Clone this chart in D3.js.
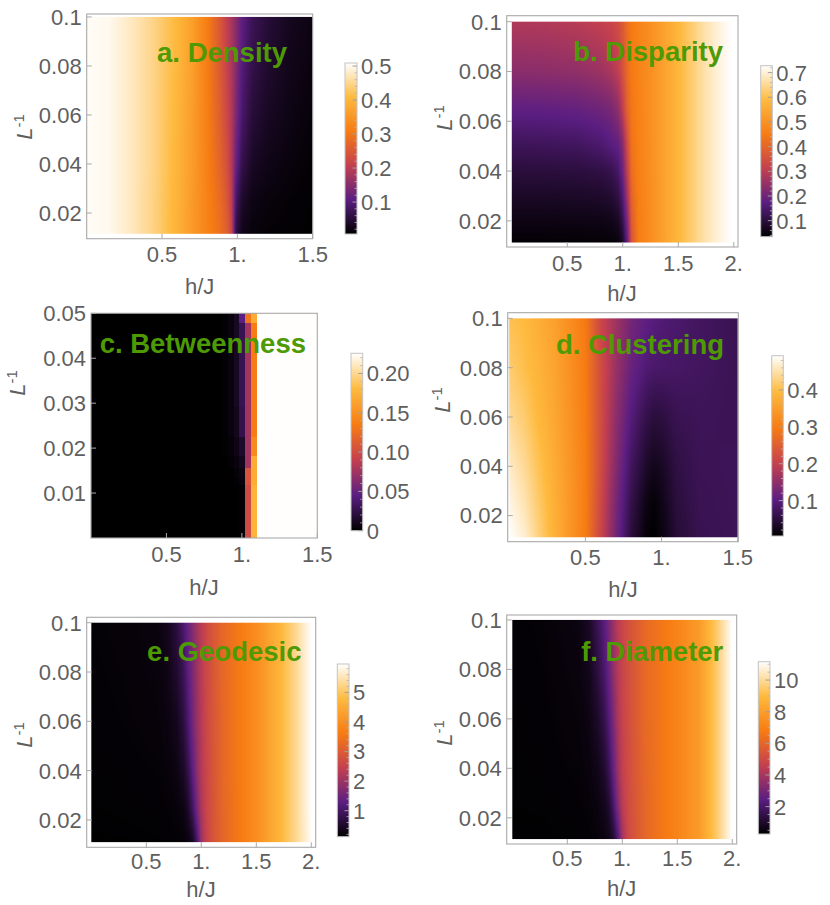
<!DOCTYPE html>
<html lang="en">
<head>
<meta charset="UTF-8" />
<title>Network measures vs h/J and 1/L</title>
<script src="https://d3js.org/d3.v7.min.js"></script>
<style>
  body { margin: 0; background: #fff; }
  svg text { font-family: "Liberation Sans", Arial, Helvetica, sans-serif; }
</style>
</head>
<body>
<div id="chart"></div>
<script>
// colour map (close to Mathematica's SunsetColors)
var sunsetStops = [0, 0.2, 0.4, 0.6, 0.8, 1];
var sunsetColors = ["#000000", "#5b1e82", "#c4404f", "#f77c13", "#feba3e", "#ffffff"];

// a. Density  (rows are L^-1 from top to bottom, columns are h/J)
var densityX = [0, 0.15, 0.3, 0.45, 0.6, 0.7, 0.8, 0.88, 0.93, 0.96, 0.99, 1.03, 1.1, 1.2, 1.35, 1.5];
var densityY = [0.1, 0.08, 0.06, 0.04, 0.025, 0.0115];
var densityZ = [
  [0.505, 0.5, 0.476, 0.445, 0.405, 0.365, 0.31, 0.25, 0.205, 0.18, 0.15, 0.11, 0.072, 0.05, 0.03, 0.02],
  [0.505, 0.5, 0.476, 0.445, 0.405, 0.365, 0.31, 0.255, 0.212, 0.185, 0.148, 0.1, 0.063, 0.042, 0.026, 0.017],
  [0.505, 0.5, 0.476, 0.445, 0.402, 0.362, 0.312, 0.262, 0.222, 0.19, 0.14, 0.088, 0.05, 0.034, 0.022, 0.014],
  [0.505, 0.5, 0.476, 0.445, 0.4, 0.36, 0.315, 0.272, 0.235, 0.195, 0.12, 0.065, 0.035, 0.024, 0.016, 0.01],
  [0.505, 0.5, 0.476, 0.443, 0.398, 0.358, 0.318, 0.283, 0.248, 0.205, 0.085, 0.04, 0.022, 0.016, 0.011, 0.008],
  [0.505, 0.5, 0.476, 0.443, 0.396, 0.356, 0.32, 0.29, 0.262, 0.22, 0.06, 0.025, 0.015, 0.011, 0.009, 0.007]
];

// b. Disparity
var disparityX = [0, 0.3, 0.6, 0.8, 0.9, 0.96, 1.0, 1.04, 1.08, 1.14, 1.25, 1.4, 1.55, 1.7, 1.85, 1.975];
var disparityY = [0.1, 0.08, 0.065, 0.05, 0.04, 0.03, 0.02, 0.0113];
var disparityZ = [
  [0.285, 0.288, 0.298, 0.312, 0.325, 0.345, 0.375, 0.42, 0.448, 0.465, 0.495, 0.545, 0.6, 0.655, 0.7, 0.728],
  [0.236, 0.238, 0.245, 0.26, 0.28, 0.31, 0.355, 0.41, 0.445, 0.465, 0.495, 0.545, 0.6, 0.655, 0.7, 0.728],
  [0.18, 0.182, 0.188, 0.2, 0.215, 0.245, 0.31, 0.395, 0.44, 0.462, 0.495, 0.545, 0.6, 0.655, 0.7, 0.728],
  [0.128, 0.13, 0.135, 0.15, 0.168, 0.182, 0.23, 0.34, 0.43, 0.46, 0.493, 0.545, 0.6, 0.655, 0.7, 0.728],
  [0.099, 0.1, 0.102, 0.108, 0.12, 0.145, 0.2, 0.31, 0.42, 0.458, 0.492, 0.545, 0.6, 0.655, 0.7, 0.728],
  [0.077, 0.077, 0.078, 0.082, 0.09, 0.11, 0.16, 0.27, 0.4, 0.455, 0.49, 0.545, 0.6, 0.655, 0.7, 0.728],
  [0.056, 0.056, 0.057, 0.058, 0.062, 0.075, 0.12, 0.22, 0.38, 0.452, 0.49, 0.545, 0.6, 0.655, 0.7, 0.728],
  [0.04, 0.04, 0.041, 0.042, 0.044, 0.05, 0.08, 0.18, 0.36, 0.45, 0.488, 0.545, 0.6, 0.655, 0.7, 0.728]
];

// c. Betweenness (blocky, nearest cell)
var betweenX = [0, 0.851, 0.889, 0.927, 0.965, 1.003, 1.041, 1.079, 1.117, 1.5];
var betweenY = [0.05, 0.0455, 0.0333, 0.025, 0.02, 0.0167, 0.0143, 0.0125, 0.0111, 0.01];
var betweenZ = [
  [0, 0, 0.002, 0.004, 0.012, 0.045, 0.13, 0.17, 0.225, 0.225],
  [0, 0, 0.002, 0.004, 0.012, 0.028, 0.075, 0.135, 0.225, 0.225],
  [0, 0, 0.002, 0.004, 0.012, 0.028, 0.075, 0.135, 0.225, 0.225],
  [0, 0, 0.002, 0.004, 0.01, 0.026, 0.075, 0.135, 0.225, 0.225],
  [0, 0, 0.001, 0.003, 0.008, 0.015, 0.075, 0.145, 0.225, 0.225],
  [0, 0, 0, 0.002, 0.005, 0.01, 0.075, 0.17, 0.225, 0.225],
  [0, 0, 0, 0, 0.003, 0.006, 0.105, 0.17, 0.225, 0.225],
  [0, 0, 0, 0, 0.002, 0.004, 0.105, 0.17, 0.225, 0.225],
  [0, 0, 0, 0, 0, 0.002, 0.098, 0.175, 0.225, 0.225],
  [0, 0, 0, 0, 0, 0.002, 0.098, 0.175, 0.225, 0.225]
];

// d. Clustering
var clusterX = [0, 0.1, 0.2, 0.3, 0.4, 0.5, 0.6, 0.7, 0.8, 0.9, 0.95, 1.0, 1.1, 1.25, 1.5];
var clusterY = [0.1, 0.08, 0.06, 0.04, 0.025, 0.0112];
var clusterZ = [
  [0.405, 0.395, 0.375, 0.355, 0.325, 0.295, 0.21, 0.165, 0.125, 0.105, 0.098, 0.092, 0.085, 0.075, 0.066],
  [0.42, 0.402, 0.383, 0.36, 0.33, 0.297, 0.222, 0.16, 0.115, 0.09, 0.085, 0.082, 0.08, 0.075, 0.067],
  [0.44, 0.42, 0.39, 0.365, 0.333, 0.298, 0.222, 0.15, 0.095, 0.06, 0.05, 0.052, 0.065, 0.07, 0.068],
  [0.465, 0.44, 0.405, 0.372, 0.338, 0.3, 0.22, 0.14, 0.075, 0.035, 0.025, 0.03, 0.055, 0.068, 0.07],
  [0.48, 0.455, 0.415, 0.378, 0.34, 0.3, 0.215, 0.13, 0.06, 0.018, 0.01, 0.02, 0.05, 0.066, 0.07],
  [0.493, 0.47, 0.425, 0.38, 0.34, 0.298, 0.21, 0.125, 0.05, 0.01, 0.004, 0.015, 0.045, 0.064, 0.07]
];

// e. Geodesic
var geodesicX = [0, 0.3, 0.6, 0.7, 0.78, 0.84, 0.88, 0.92, 0.96, 1.0, 1.05, 1.12, 1.2, 1.35, 1.5, 1.7, 1.85, 2.0];
var geodesicY = [0.1, 0.08, 0.06, 0.04, 0.025, 0.011];
var geodesicZ = [
  [0.18, 0.2, 0.25, 0.4, 0.7, 1.1, 1.45, 1.75, 2.05, 2.35, 2.65, 2.95, 3.25, 3.6, 3.95, 4.65, 5.25, 5.95],
  [0.17, 0.19, 0.23, 0.33, 0.55, 0.9, 1.3, 1.65, 2.0, 2.32, 2.63, 2.95, 3.25, 3.6, 3.95, 4.65, 5.25, 5.95],
  [0.16, 0.18, 0.21, 0.27, 0.4, 0.7, 1.1, 1.55, 1.95, 2.3, 2.62, 2.93, 3.24, 3.6, 3.95, 4.65, 5.25, 5.95],
  [0.15, 0.16, 0.18, 0.22, 0.3, 0.48, 0.8, 1.3, 1.85, 2.28, 2.6, 2.93, 3.24, 3.6, 3.95, 4.65, 5.25, 5.95],
  [0.14, 0.15, 0.16, 0.18, 0.22, 0.3, 0.5, 0.95, 1.6, 2.2, 2.58, 2.92, 3.23, 3.6, 3.95, 4.65, 5.25, 5.95],
  [0.13, 0.13, 0.14, 0.15, 0.17, 0.2, 0.25, 0.4, 1.0, 2.0, 2.55, 2.9, 3.22, 3.6, 3.95, 4.65, 5.25, 5.9]
];

// f. Diameter
var diameterX = [0, 0.3, 0.6, 0.7, 0.78, 0.84, 0.88, 0.92, 0.96, 1.0, 1.05, 1.12, 1.2, 1.35, 1.5, 1.7, 1.85, 1.985];
var diameterY = [0.1, 0.08, 0.06, 0.04, 0.025, 0.0114];
var diameterZ = [
  [0.35, 0.4, 0.55, 0.9, 1.75, 2.45, 3.1, 3.8, 4.4, 4.8, 5.2, 5.6, 6.1, 6.6, 7.1, 7.9, 9.4, 11.0],
  [0.34, 0.38, 0.5, 0.75, 1.4, 2.1, 2.8, 3.6, 4.3, 4.75, 5.15, 5.6, 6.1, 6.6, 7.1, 7.9, 9.4, 11.0],
  [0.33, 0.36, 0.45, 0.6, 1.0, 1.6, 2.3, 3.2, 4.1, 4.7, 5.1, 5.58, 6.1, 6.6, 7.1, 7.9, 9.4, 11.0],
  [0.32, 0.34, 0.4, 0.5, 0.7, 1.1, 1.7, 2.7, 3.8, 4.6, 5.05, 5.55, 6.05, 6.6, 7.1, 7.9, 9.4, 11.0],
  [0.31, 0.32, 0.36, 0.42, 0.55, 0.75, 1.1, 2.0, 3.3, 4.4, 5.0, 5.5, 6.0, 6.6, 7.1, 7.9, 9.4, 11.0],
  [0.3, 0.3, 0.32, 0.36, 0.45, 0.55, 0.7, 1.1, 2.2, 3.9, 4.9, 5.5, 6.0, 6.6, 7.1, 7.9, 9.4, 11.0]
];

// tick values
var xTicksShort = [0.5, 1, 1.5];
var xTicksLong = [0.5, 1, 1.5, 2];
var yTicksMain = [0.02, 0.04, 0.06, 0.08, 0.1];
var yTicksBetween = [0.01, 0.02, 0.03, 0.04, 0.05];
var barTicksDensity = [0.1, 0.2, 0.3, 0.4, 0.5];
var barTicksDisparity = [0.1, 0.2, 0.3, 0.4, 0.5, 0.6, 0.7];
var barTicksBetween = [0, 0.05, 0.1, 0.15, 0.2];
var barTicksCluster = [0.1, 0.2, 0.3, 0.4];
var barTicksGeodesic = [1, 2, 3, 4, 5];
var barTicksDiameter = [2, 4, 6, 8, 10];

var panels = [
  { title: "a. Density", xs: densityX, ys: densityY, zs: densityZ,
    box: [86.7, 14, 312.7, 238.7], xDomain: [0, 1.5], yDomain: [0.0095, 0.1012],
    xTicks: xTicksShort, yTicks: yTicksMain, xTickOff: 23.5,
    bar: [345, 63, 357, 234], barDomain: [0.006, 0.509], barTicks: barTicksDensity, barMinor: 0.02, barFmt: ".1f",
    titlePos: [287, 62], yLab: [32, 127], xLab: [199.7, 293.5] },
  { title: "b. Disparity", xs: disparityX, ys: disparityY, zs: disparityZ,
    box: [506.7, 15.7, 738, 247], xDomain: [-0.046, 2.038], yDomain: [0.0095, 0.1024],
    xTicks: xTicksLong, yTicks: yTicksMain, xTickOff: 23.5,
    bar: [760.7, 65.7, 772.3, 236.7], barDomain: [0.035, 0.728], barTicks: barTicksDisparity, barMinor: 0.02, barFmt: ".1f",
    titlePos: [723, 61], yLab: [452, 118], xLab: [622, 300.5] },
  { title: "c. Betweenness", xs: betweenX, ys: betweenY, zs: betweenZ, blocky: true,
    box: [91, 313.3, 317.3, 538], xDomain: [0, 1.5], yDomain: [0, 0.05],
    xTicks: xTicksShort, yTicks: yTicksBetween, xTickOff: 23.5,
    bar: [351, 353.3, 362.7, 530.7], barDomain: [0, 0.2256], barTicks: barTicksBetween, barMinor: 0.01, barFmt: ".2f",
    titlePos: [306, 352.5], yLab: [25, 383], xLab: [204, 594.5] },
  { title: "d. Clustering", xs: clusterX, ys: clusterY, zs: clusterZ,
    box: [507.7, 312.7, 738.3, 541.7], xDomain: [-0.01, 1.504], yDomain: [0.0094, 0.1023],
    xTicks: xTicksShort, yTicks: yTicksMain, xTickOff: 23.5,
    bar: [771.7, 355.7, 783.3, 536], barDomain: [0.004, 0.493], barTicks: barTicksCluster, barMinor: 0.02, barFmt: ".1f",
    titlePos: [724, 354], yLab: [450, 400], xLab: [623, 596.5] },
  { title: "e. Geodesic", xs: geodesicX, ys: geodesicY, zs: geodesicZ,
    box: [86.7, 617.3, 315.7, 847.3], xDomain: [-0.042, 2.04], yDomain: [0.0089, 0.1022],
    xTicks: xTicksLong, yTicks: yTicksMain, xTickOff: 22,
    bar: [337.3, 664, 349, 836.7], barDomain: [0.12, 5.96], barTicks: barTicksGeodesic, barMinor: 0.2, barFmt: "d",
    titlePos: [301.5, 660.5], yLab: [32, 735], xLab: [201, 896.5] },
  { title: "f. Diameter", xs: diameterX, ys: diameterY, zs: diameterZ,
    box: [506.7, 615, 736.7, 844], xDomain: [-0.051, 2.04], yDomain: [0.0094, 0.102],
    xTicks: xTicksLong, yTicks: yTicksMain, xTickOff: 22,
    bar: [758.3, 661.7, 770, 834], barDomain: [0.27, 11.16], barTicks: barTicksDiameter, barMinor: 0.5, barFmt: "d",
    titlePos: [723.3, 660.5], yLab: [452, 733], xLab: [621.7, 896] }
];

var width = 830, height = 905;
var frameColor = "#a9a9a9", textColor = "#5f5f5f", titleColor = "#4e9a04";

var svg = d3.select("#chart").append("svg")
    .attr("width", width)
    .attr("height", height);

var defs = svg.append("defs");

function makeColor(domain) {
    var lo = domain[0], hi = domain[1];
    return d3.scaleLinear()
        .domain(sunsetStops.map(function(s) { return lo + s * (hi - lo); }))
        .range(sunsetColors)
        .interpolate(d3.interpolateRgb)
        .clamp(true);
}

// bilinear lookup on the (non uniform) grid
function makeSampler(xs, ysTopDown, zs) {
    var ys = ysTopDown.slice().reverse();
    var rows = zs.slice().reverse();
    function locate(arr, v) {
        var i = d3.bisectRight(arr, v) - 1;
        i = Math.max(0, Math.min(arr.length - 2, i));
        var t = (v - arr[i]) / (arr[i + 1] - arr[i]);
        return [i, Math.max(0, Math.min(1, t))];
    }
    return function(x, y) {
        var a = locate(xs, x), b = locate(ys, y);
        var i = a[0], tx = a[1], j = b[0], ty = b[1];
        var z0 = rows[j][i] * (1 - tx) + rows[j][i + 1] * tx;
        var z1 = rows[j + 1][i] * (1 - tx) + rows[j + 1][i + 1] * tx;
        return z0 * (1 - ty) + z1 * ty;
    };
}

// cell edges for the blocky panel: midpoints, outer cells stretched to the domain
function edges(centers, lo, hi) {
    var e = [lo];
    for (var k = 0; k < centers.length - 1; k++) e.push((centers[k] + centers[k + 1]) / 2);
    e.push(hi);
    return e;
}

panels.forEach(function(p, pi) {
    var x = d3.scaleLinear().domain(p.xDomain).range([p.box[0], p.box[2]]);
    var y = d3.scaleLinear().domain(p.yDomain).range([p.box[3], p.box[1]]);
    var color = makeColor(p.barDomain);
    var g = svg.append("g");

    if (p.blocky) {
        var xe = edges(p.xs, p.xDomain[0], p.xDomain[1]);
        var ye = edges(p.ys, p.yDomain[1], p.yDomain[0]);
        var cells = [];
        p.zs.forEach(function(row, r) {
            row.forEach(function(v, c) {
                cells.push({ x0: xe[c], x1: xe[c + 1], y0: ye[r], y1: ye[r + 1], v: v });
            });
        });
        g.selectAll("rect.cell").data(cells).enter().append("rect")
            .attr("class", "cell")
            .attr("x", function(d) { return x(d.x0); })
            .attr("y", function(d) { return y(d.y0); })
            .attr("width", function(d) { return x(d.x1) - x(d.x0) + 0.4; })
            .attr("height", function(d) { return y(d.y1) - y(d.y0) + 0.4; })
            .attr("fill", function(d) { return color(d.v); })
            .attr("shape-rendering", "crispEdges");
    } else {
        var sample = makeSampler(p.xs, p.ys, p.zs);
        var px0 = x(d3.min(p.xs)), px1 = x(d3.max(p.xs));
        var py0 = y(d3.max(p.ys)), py1 = y(d3.min(p.ys));
        var W = Math.round(px1 - px0), H = Math.round(py1 - py0);
        var canvas = document.createElement("canvas");
        canvas.width = W; canvas.height = H;
        var ctx = canvas.getContext("2d");
        var img = ctx.createImageData(W, H);
        for (var j = 0; j < H; j++) {
            var dy = y.invert(py0 + (j + 0.5) * (py1 - py0) / H);
            for (var i = 0; i < W; i++) {
                var dx = x.invert(px0 + (i + 0.5) * (px1 - px0) / W);
                var c = d3.rgb(color(sample(dx, dy)));
                var k = (j * W + i) * 4;
                img.data[k] = c.r; img.data[k + 1] = c.g; img.data[k + 2] = c.b; img.data[k + 3] = 255;
            }
        }
        ctx.putImageData(img, 0, 0);
        g.append("image")
            .attr("x", px0).attr("y", py0)
            .attr("width", px1 - px0).attr("height", py1 - py0)
            .attr("preserveAspectRatio", "none")
            .attr("href", canvas.toDataURL());
    }

    // frame
    g.append("rect")
        .attr("x", p.box[0]).attr("y", p.box[1])
        .attr("width", p.box[2] - p.box[0]).attr("height", p.box[3] - p.box[1])
        .attr("fill", "none").attr("stroke", frameColor).attr("stroke-width", 1.1);

    // ticks, pointing inward
    g.selectAll("line.xt").data(p.xTicks).enter().append("line")
        .attr("x1", function(d) { return x(d); }).attr("x2", function(d) { return x(d); })
        .attr("y1", p.box[3]).attr("y2", p.box[3] - 5)
        .attr("stroke", frameColor);
    g.selectAll("line.yt").data(p.yTicks).enter().append("line")
        .attr("x1", p.box[0]).attr("x2", p.box[0] + 5)
        .attr("y1", function(d) { return y(d); }).attr("y2", function(d) { return y(d); })
        .attr("stroke", frameColor);

    g.selectAll("text.xl").data(p.xTicks).enter().append("text")
        .attr("x", function(d) { return x(d); })
        .attr("y", p.box[3] + p.xTickOff)
        .attr("text-anchor", "middle")
        .attr("font-size", 22).attr("fill", textColor)
        .text(function(d) { return d % 1 === 0 ? d + "." : String(d); });
    g.selectAll("text.yl").data(p.yTicks).enter().append("text")
        .attr("x", p.box[0] - 5)
        .attr("y", function(d) { return y(d); })
        .attr("dy", "0.36em")
        .attr("text-anchor", "end")
        .attr("font-size", 22).attr("fill", textColor)
        .text(function(d) { return String(d); });

    // axis labels
    g.append("text")
        .attr("x", p.xLab[0]).attr("y", p.xLab[1])
        .attr("text-anchor", "middle")
        .attr("font-size", 22).attr("fill", textColor)
        .text("h/J");
    var yl = g.append("text")
        .attr("transform", "translate(" + p.yLab[0] + "," + p.yLab[1] + ") rotate(-90)")
        .attr("text-anchor", "middle")
        .attr("font-size", 22).attr("fill", textColor);
    yl.append("tspan").attr("font-style", "italic").text("L");
    yl.append("tspan").attr("font-size", 15).attr("dy", -8).text("-1");

    // panel title
    g.append("text")
        .attr("x", p.titlePos[0]).attr("y", p.titlePos[1])
        .attr("text-anchor", "end")
        .attr("font-size", 27.5).attr("font-weight", "bold")
        .attr("fill", titleColor)
        .text(p.title);

    // colour bar
    var gradId = "grad" + pi;
    var grad = defs.append("linearGradient").attr("id", gradId)
        .attr("x1", 0).attr("y1", 1).attr("x2", 0).attr("y2", 0);
    grad.selectAll("stop").data(sunsetStops).enter().append("stop")
        .attr("offset", function(d) { return d; })
        .attr("stop-color", function(d, i) { return sunsetColors[i]; });
    var bar = p.bar;
    var by = d3.scaleLinear().domain(p.barDomain).range([bar[3], bar[1]]);
    g.append("rect")
        .attr("x", bar[0]).attr("y", bar[1])
        .attr("width", bar[2] - bar[0]).attr("height", bar[3] - bar[1])
        .attr("fill", "url(#" + gradId + ")")
        .attr("stroke", "#c4c4c4").attr("stroke-width", 1);

    var minor = d3.range(Math.ceil(p.barDomain[0] / p.barMinor) * p.barMinor, p.barDomain[1], p.barMinor)
        .filter(function(v) { return !p.barTicks.some(function(t) { return Math.abs(t - v) < 1e-6; }); });
    g.selectAll("line.bm").data(minor).enter().append("line")
        .attr("x1", bar[2] - 2.5).attr("x2", bar[2])
        .attr("y1", function(d) { return by(d); }).attr("y2", function(d) { return by(d); })
        .attr("stroke", "#b5b5b5").attr("stroke-width", 0.8);
    g.selectAll("line.bt").data(p.barTicks).enter().append("line")
        .attr("x1", bar[2] - 4.5).attr("x2", bar[2])
        .attr("y1", function(d) { return by(d); }).attr("y2", function(d) { return by(d); })
        .attr("stroke", "#a0a0a0");
    var fmt = d3.format(p.barFmt);
    g.selectAll("text.bl").data(p.barTicks).enter().append("text")
        .attr("x", bar[2] + 4)
        .attr("y", function(d) { return by(d); })
        .attr("dy", "0.36em")
        .attr("font-size", 22).attr("fill", textColor)
        .text(function(d) { return d === 0 ? "0" : fmt(d); });
});
</script>
</body>
</html>
